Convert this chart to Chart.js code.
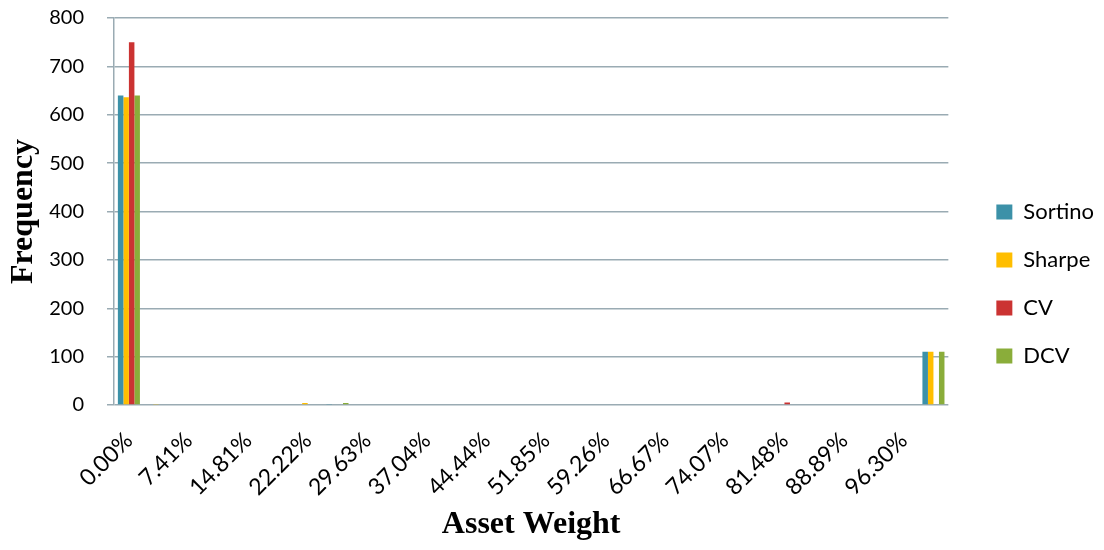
<!DOCTYPE html>
<html>
<head>
<meta charset="utf-8">
<title>Asset Weight Frequency</title>
<script src="https://cdn.jsdelivr.net/npm/chart.js@4/dist/chart.umd.min.js"></script>
<style>
  html, body { margin: 0; padding: 0; background: #ffffff; }
  canvas { display: block; }
</style>
</head>
<body>
<canvas id="chart" width="1104" height="550"></canvas>
<script>
// Asset weight bins (steps of 1/27)
const weightLabels = [
  "0.00%", "3.70%", "7.41%", "11.11%", "14.81%", "18.52%", "22.22%",
  "25.93%", "29.63%", "33.33%", "37.04%", "40.74%", "44.44%", "48.15%",
  "51.85%", "55.56%", "59.26%", "62.96%", "66.67%", "70.37%", "74.07%",
  "77.78%", "81.48%", "85.19%", "88.89%", "92.59%", "96.30%", "100.00%"
];

// Frequency of each weight per optimisation criterion
const sortinoFreq = [640, 0, 0, 0, 0, 0, 0, 2, 0, 0, 0, 0, 0, 0, 0, 0, 0, 0, 0, 0, 0, 0, 0, 0, 0, 0, 0, 110];
const sharpeFreq  = [636, 1, 0, 0, 0, 0, 4, 0, 0, 0, 0, 0, 0, 0, 0, 0, 0, 0, 0, 0, 0, 0, 0, 0, 0, 0, 0, 110];
const cvFreq      = [750, 0, 0, 0, 0, 0, 0, 0, 0, 0, 0, 0, 0, 0, 0, 0, 0, 0, 0, 0, 0, 0, 5, 0, 0, 0, 0, 0];
const dcvFreq     = [640, 0, 0, 0, 0, 0, 0, 4, 0, 0, 0, 0, 0, 0, 0, 0, 0, 0, 0, 0, 0, 0, 0, 0, 0, 0, 0, 110];

const seriesNames = ["Sortino", "Sharpe", "CV", "DCV"];
const seriesColors = ["#3C91A8", "#FFBE00", "#CB3332", "#8AAD3A"];

// Frequency axis ticks
const freqMin = 0, freqMax = 800, freqStep = 100;

const gridColor = "#9AABB3";
const sansFamily = "Lato, 'Open Sans', sans-serif";
const titleFont = { family: "'Liberation Serif', 'Times New Roman', serif", size: 32, weight: "bold" };

const seriesData = [sortinoFreq, sharpeFreq, cvFreq, dcvFreq];

new Chart(document.getElementById("chart"), {
  type: "bar",
  data: {
    labels: weightLabels,
    datasets: seriesNames.map((name, i) => ({
      label: name,
      data: seriesData[i],
      backgroundColor: seriesColors[i],
      borderWidth: 0,
      categoryPercentage: 0.74,
      barPercentage: 1.0
    }))
  },
  options: {
    responsive: false,
    animation: false,
    devicePixelRatio: 1,
    layout: { padding: { top: 18, right: 0, bottom: 0, left: 0 } },
    plugins: {
      tooltip: { enabled: false },
      legend: {
        position: "right",
        align: "center",
        labels: {
          boxWidth: 16,
          boxHeight: 15,
          padding: 26,
          color: "#000000",
          font: { family: sansFamily, size: 22 }
        }
      }
    },
    scales: {
      x: {
        grid: { display: false },
        border: { display: false },
        ticks: {
          autoSkip: false,
          minRotation: 45,
          maxRotation: 45,
          padding: 14,
          color: "#000000",
          font: { family: sansFamily, size: 23 },
          callback: (value, index) => (index % 2 === 0 ? weightLabels[index] : "")
        },
        title: {
          display: true,
          text: "Asset Weight",
          color: "#000000",
          font: titleFont,
          padding: { top: 0, bottom: 6 }
        },
        afterFit: (scale) => { scale.height = 145; }
      },
      y: {
        min: freqMin,
        max: freqMax,
        grid: {
          color: gridColor,
          lineWidth: 1.5,
          // long tick slot so the labels sit clear of the axis; only the
          // inner 7px of each tick mark is drawn
          tickLength: 30,
          tickBorderDash: [7, 23],
          tickBorderDashOffset: 7,
          drawTicks: true
        },
        border: { display: true, color: gridColor, width: 1.5 },
        ticks: {
          stepSize: freqStep,
          padding: 0,
          color: "#000000",
          font: { family: sansFamily, size: 20 }
        },
        title: {
          display: true,
          text: "Frequency",
          color: "#000000",
          font: titleFont,
          padding: { top: 5, bottom: 0 }
        },
        afterFit: (scale) => { scale.width = 114; }
      },
      // empty spacer between the plot area and the legend
      gap: {
        type: "linear",
        position: "right",
        display: true,
        grid: { display: false },
        border: { display: false },
        ticks: { display: false },
        afterFit: (scale) => { scale.width = 22; }
      }
    }
  }
});
</script>
</body>
</html>
